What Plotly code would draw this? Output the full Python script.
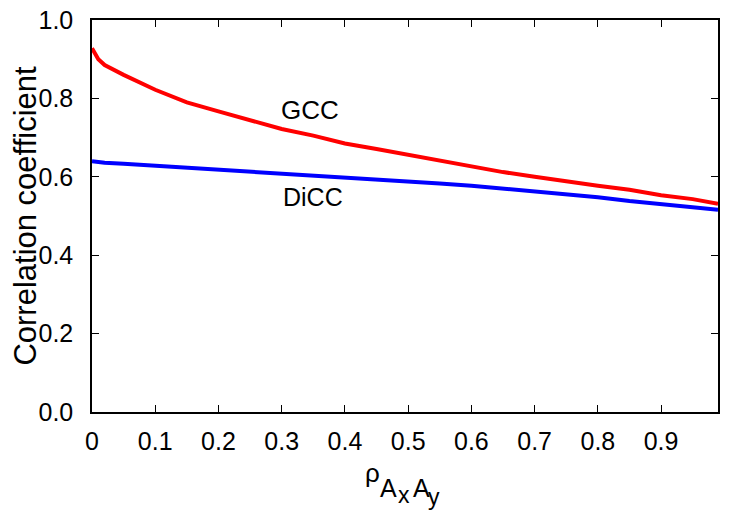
import plotly.graph_objects as go

rho = [0, 0.01, 0.02, 0.05, 0.10, 0.15, 0.20, 0.25, 0.30, 0.35, 0.40, 0.45,
       0.50, 0.55, 0.60, 0.65, 0.70, 0.75, 0.80, 0.85, 0.90, 0.95, 0.99]
gcc = [0.928, 0.900, 0.885, 0.860, 0.822, 0.790, 0.767, 0.744, 0.722, 0.705,
       0.685, 0.671, 0.656, 0.642, 0.625, 0.612, 0.600, 0.588, 0.577, 0.567,
       0.553, 0.543, 0.531]
dicc = [0.640, 0.637, 0.636, 0.633, 0.628, 0.624, 0.620, 0.615, 0.609, 0.603,
        0.598, 0.594, 0.589, 0.583, 0.577, 0.570, 0.563, 0.556, 0.548, 0.538,
        0.531, 0.523, 0.516]

x_ticks = [0, 0.1, 0.2, 0.3, 0.4, 0.5, 0.6, 0.7, 0.8, 0.9]
x_tick_text = ["0", "0.1", "0.2", "0.3", "0.4", "0.5", "0.6", "0.7", "0.8", "0.9"]
y_ticks = [0, 0.2, 0.4, 0.6, 0.8, 1.0]
y_tick_text = ["0.0", "0.2", "0.4", "0.6", "0.8", "1.0"]

FONT = "Liberation Sans, Arial, Helvetica, sans-serif"

fig = go.Figure()
fig.add_trace(go.Scatter(x=rho, y=gcc, mode="lines", name="GCC",
                         line=dict(color="#ff0000", width=4)))
fig.add_trace(go.Scatter(x=rho, y=dicc, mode="lines", name="DiCC",
                         line=dict(color="#0000ff", width=4)))

fig.add_annotation(x=0.344, y=0.770, text="GCC", showarrow=False,
                   font=dict(family=FONT, size=26, color="black"))
fig.add_annotation(x=0.349, y=0.549, text="DiCC", showarrow=False,
                   font=dict(family=FONT, size=25, color="black"))

# x-axis title: rho with subscripts A_x A_y (built from pieces)
title_parts = [
    ("ρ", 26, 0.448, -0.156),
    ("A", 25, 0.4744, -0.193),
    ("x", 23, 0.4984, -0.212),
    ("A", 25, 0.526, -0.193),
    ("y", 23, 0.546, -0.216),
]
for txt, size, xp, yp in title_parts:
    fig.add_annotation(x=xp, y=yp, xref="paper", yref="paper", text=txt,
                       showarrow=False, xanchor="center", yanchor="middle",
                       font=dict(family=FONT, size=size, color="black"))

fig.update_layout(
    width=721, height=507,
    margin=dict(l=84, r=11, t=12, b=103),
    plot_bgcolor="white", paper_bgcolor="white",
    showlegend=False,
    font=dict(family=FONT, size=25, color="black"),
    xaxis=dict(range=[0, 0.99], tickvals=x_ticks, ticktext=x_tick_text,
               tickfont=dict(family=FONT, size=25, color="black"),
               ticks="inside", ticklen=7, tickwidth=1, tickcolor="black",
               showline=True, linecolor="black", linewidth=1.5, mirror="ticks",
               showgrid=False, zeroline=False, ticklabelstandoff=6,
               ticklabeloverflow="allow", automargin=False),
    yaxis=dict(range=[0, 1.0], tickvals=y_ticks, ticktext=y_tick_text,
               tickfont=dict(family=FONT, size=25, color="black"),
               ticks="inside", ticklen=7, tickwidth=1, tickcolor="black",
               showline=True, linecolor="black", linewidth=1.5, mirror="ticks",
               showgrid=False, zeroline=False, ticklabelstandoff=12,
               ticklabeloverflow="allow", automargin=False,
               title=dict(text="Correlation coefficient",
                          font=dict(family=FONT, size=31, color="black"),
                          standoff=4)),
)

fig.write_html("out.html")
